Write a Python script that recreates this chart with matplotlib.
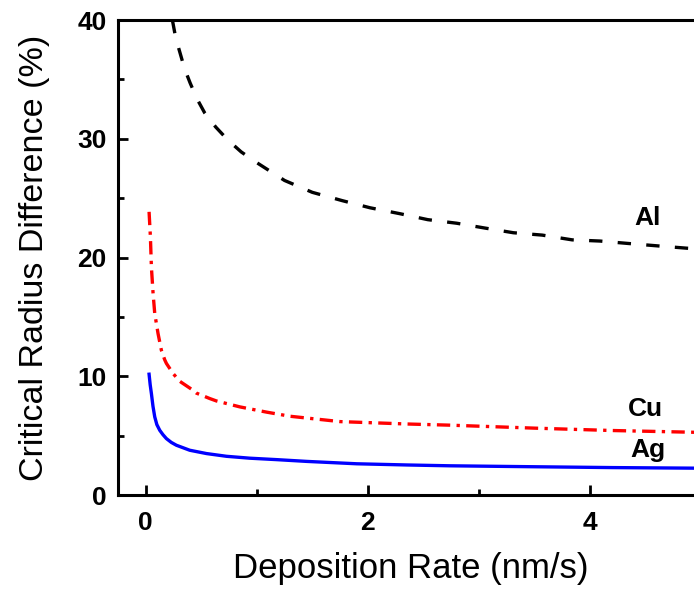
import matplotlib
matplotlib.use("Agg")
import matplotlib.pyplot as plt
from matplotlib.ticker import MultipleLocator

plt.rcParams['font.family'] = ['Liberation Sans', 'DejaVu Sans']

# Data
al_x = [0.24, 0.27, 0.31, 0.35, 0.40, 0.46, 0.53, 0.63, 0.74, 0.86, 1.00, 1.25, 1.50, 1.77,
        2.02, 2.29, 2.54, 2.80, 3.05, 3.31, 3.57, 3.84, 4.09, 4.34, 4.60, 4.87, 4.95]
al_y = [40.0, 38.5, 37.2, 35.9, 34.7, 33.4, 32.2, 31.0, 29.9, 28.9, 28.0, 26.5, 25.5, 24.8,
        24.2, 23.7, 23.2, 22.9, 22.5, 22.1, 21.9, 21.5, 21.4, 21.2, 21.0, 20.8, 20.75]

cu_x = [0.030, 0.042, 0.051, 0.066, 0.081, 0.111, 0.141, 0.171, 0.186, 0.246, 0.306, 0.321,
        0.426, 0.456, 0.577, 0.636, 0.847, 1.087, 1.30, 1.75, 2.35, 2.74, 3.5, 4.2, 4.95]
cu_y = [23.86, 21.75, 19.2, 17.0, 15.3, 13.6, 12.2, 11.4, 11.1, 10.25, 9.6, 9.5,
        8.84, 8.6, 8.14, 7.94, 7.44, 7.0, 6.65, 6.2, 6.0, 5.9, 5.65, 5.45, 5.3]

ag_x = [0.030, 0.040, 0.051, 0.065, 0.081, 0.10, 0.126, 0.155, 0.186, 0.23, 0.276, 0.396,
        0.547, 0.727, 0.937, 1.177, 1.45, 1.9, 2.35, 2.74, 3.5, 4.2, 4.95]
ag_y = [10.19, 9.3, 8.56, 7.5, 6.6, 5.95, 5.47, 5.1, 4.77, 4.45, 4.21, 3.79,
        3.51, 3.28, 3.12, 3.0, 2.85, 2.65, 2.55, 2.48, 2.4, 2.33, 2.28]

labels = ["Al", "Cu", "Ag"]
label_x = [4.52, 4.50, 4.52]
label_y = [23.3, 7.3, 3.8]

x_ticks = [0, 2, 4]
y_ticks = [0, 10, 20, 30, 40]

fig = plt.figure(figsize=(6.94, 5.91), dpi=100)
ax = fig.add_axes([0.170, 0.162, 0.830, 0.804])

ax.plot(al_x, al_y, color='black', lw=2.4, linestyle=(0, (4.0, 4.6)))
ax.plot(cu_x, cu_y, color='red', lw=2.4, linestyle=(0, (4.0, 1.9, 1.0, 1.9)))
ax.plot(ag_x, ag_y, color='blue', lw=2.4, linestyle='-')

for t, tx, ty in zip(labels, label_x, label_y):
    ax.text(tx, ty, t, fontsize=19, fontweight='bold', ha='center', va='center')

ax.set_xlim(-0.25, 4.937)
ax.set_ylim(0, 40)
ax.set_xticks(x_ticks)
ax.set_yticks(y_ticks)
ax.xaxis.set_minor_locator(MultipleLocator(1))
ax.yaxis.set_minor_locator(MultipleLocator(5))
ax.tick_params(which='major', direction='in', length=7, width=2, labelsize=19)
ax.tick_params(axis='x', which='major', pad=11)
ax.tick_params(axis='y', which='major', pad=8)
ax.tick_params(which='minor', direction='in', length=4, width=2)
for lbl in ax.get_xticklabels() + ax.get_yticklabels():
    lbl.set_fontweight('bold')

for s in ['left', 'bottom', 'top']:
    ax.spines[s].set_linewidth(2.2)
ax.spines['right'].set_visible(False)

ax.set_xlabel('Deposition Rate (nm/s)', fontsize=25)
ax.set_ylabel('Critical Radius Difference (%)', fontsize=24.5)
ax.xaxis.set_label_coords(0.508, -0.12)
ax.yaxis.set_label_coords(-0.118, 0.5)

fig.savefig('out.png', dpi=100)
